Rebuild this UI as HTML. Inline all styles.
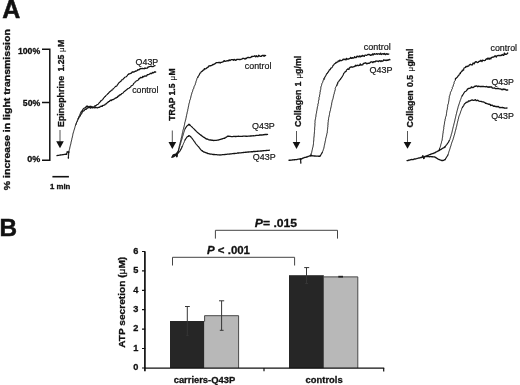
<!DOCTYPE html>
<html><head><meta charset="utf-8">
<style>
html,body{margin:0;padding:0;background:#fff;}
svg{display:block;font-family:"Liberation Sans",sans-serif;}
.b{font-weight:bold;stroke:#111;stroke-width:0.3;paint-order:stroke;}
.big{stroke-width:0.5;stroke-linejoin:miter;}
.tr{fill:none;stroke:#141414;stroke-linejoin:round;stroke-linecap:round;}
.ax{fill:none;stroke:#111;stroke-width:1.5;}
.lb{stroke:#151515;stroke-width:0.2;}
.br{fill:none;stroke:#444;stroke-width:1;}
.eb{fill:none;stroke:#363636;stroke-width:1;}
</style></head>
<body>
<svg width="520" height="385" viewBox="0 0 520 385">
<rect width="520" height="385" fill="#fff"/>
<!-- Panel letters -->
<text class="b big" x="2.2" y="18.1" font-size="25" fill="#111">A</text>
<text class="b big" x="-0.4" y="235.9" font-size="24.3" fill="#111">B</text>

<!-- Panel A y axis -->
<text class="b" transform="translate(10.3,190.2) rotate(-90) scale(1,0.94)" font-size="10.5" style="stroke-width:0.35" fill="#111" textLength="161" lengthAdjust="spacing">% increase in light transmission</text>
<path class="ax" d="M42,49.3H49.8V160.35H42M42,102.6H49.8"/>
<text class="b" x="40.2" y="54.4" font-size="8.7" text-anchor="end" fill="#111">100%</text>
<text class="b" x="40.2" y="106.3" font-size="8.7" text-anchor="end" fill="#111">50%</text>
<text class="b" x="40.2" y="162.4" font-size="9" text-anchor="end" fill="#111">0%</text>
<path d="M52.4,176.7H68.9" stroke="#111" stroke-width="1.6" fill="none"/>
<text class="b" x="50" y="188.8" font-size="7.8" fill="#111">1 min</text>

<!-- Chart 1 -->
<text class="b" transform="translate(63.7,127) rotate(-90)" font-size="8.9" fill="#111"><tspan x="0">Epinephrine</tspan><tspan x="55.6" font-size="8.6">1.25</tspan><tspan x="75" font-weight="normal" font-size="8" style="stroke-width:0.15">μ</tspan><tspan x="80.1">M</tspan></text>
<path d="M60,130V142" stroke="#555" stroke-width="1" fill="none"/>
<path d="M56.2,141.2H63.8L60,148.2Z" fill="#111"/>
<path class="tr" stroke-width="1.35" d="M57.0,155.6L57.8,155.4L58.7,155.3L59.5,155.2L60.3,155.0L61.2,154.9L62.0,154.8L62.7,154.6L63.5,154.6L64.2,154.4L65.0,154.4L65.7,154.2L66.5,154.2"/>
<path class="tr" stroke-width="1.15" d="M66.5,154.2L66.7,153.5L67.0,152.7L67.2,152.0"/>
<path class="tr" stroke-width="1.35" d="M67.2,152.0L68.0,151.9L68.8,152.0"/>
<path class="tr" stroke-width="1.15" d="M68.8,152.0L68.7,152.8"/>
<path class="tr" stroke-width="0.95" d="M68.7,152.8L68.7,153.5L68.7,154.3L68.6,155.0L68.6,155.8L68.5,156.5L68.5,157.3L68.4,158.0"/>
<path class="tr" stroke-width="1.35" d="M68.4,158.0L68.4,157.2"/>
<path class="tr" stroke-width="0.95" d="M68.4,157.2L68.4,156.4L68.4,155.6L68.3,154.8L68.3,154.0L68.5,153.3L68.7,152.5L68.9,151.8L69.0,151.0L69.2,150.2L69.4,149.5L69.6,148.8L69.8,148.0L69.9,147.2L70.1,146.5L70.3,145.7L70.5,145.0L70.7,144.2L70.9,143.4L71.0,142.6L71.2,141.8L71.4,141.0L71.6,140.2L71.8,139.4L71.9,138.6L72.2,137.8L72.3,137.0L72.5,136.2L72.7,135.4L72.8,134.6L73.0,133.8L73.1,133.0L73.5,132.2L73.7,131.4L73.9,130.6L74.2,129.8L74.4,129.0L74.7,128.2L74.9,127.4L75.1,126.6L75.4,125.8L75.7,125.0L76.0,124.3L76.1,123.6L76.4,122.9L76.6,122.1L77.0,121.5L77.2,120.7L77.6,120.1L77.8,119.3L77.9,118.6L78.3,117.9L78.7,117.2L78.9,116.4L79.3,115.8L79.6,115.0L79.9,114.3L80.2,113.6L80.7,113.0"/>
<path class="tr" stroke-width="1.15" d="M80.7,113.0L80.9,112.1L81.4,111.5L82.0,110.8L82.6,110.3L82.8,109.4L83.5,108.8L84.0,108.2L84.8,108.0L85.3,107.6"/>
<path class="tr" stroke-width="1.35" d="M85.3,107.6L86.0,107.2L86.3,106.4L87.0,106.1L87.7,106.2L88.4,106.8L89.2,107.0L90.1,106.3L90.9,106.4L91.6,106.6L92.4,106.8L93.2,107.1L94.0,107.4L94.6,106.6L95.1,105.9"/>
<path class="tr" stroke-width="1.15" d="M95.1,105.9L96.0,105.6L96.6,105.0L97.4,104.6L98.2,104.2L98.7,103.5L99.2,102.8L99.8,102.3L100.4,101.7L100.7,100.8L101.6,100.6L102.2,99.9L102.8,99.4L103.3,98.7L103.7,97.9L104.3,97.4L104.7,96.7L105.5,96.4L105.8,95.6L106.4,95.1L107.0,94.6L107.6,94.0L108.2,93.6L108.7,92.9L109.2,92.3L109.8,91.8L110.4,91.3L111.1,90.8L111.5,90.1L112.4,90.0L112.9,89.3L113.2,88.6L113.9,88.1L114.5,87.6L115.0,87.0L115.5,86.4L116.4,86.2L117.1,85.6L117.4,84.8L118.0,84.2L118.4,83.4L118.9,82.8L119.6,82.3L120.2,81.7L121.0,81.3L121.3,80.4L121.8,79.8L122.8,79.7L123.2,79.0L123.6,78.3L124.4,78.0L124.7,77.2L125.5,77.0L126.3,76.8L126.8,76.2L127.3,75.6L127.7,74.9L128.4,74.4"/>
<path class="tr" stroke-width="1.35" d="M128.4,74.4L128.8,73.8L129.9,73.8L130.5,73.3L131.4,73.1L131.9,72.4L132.6,71.9L133.6,72.0L134.4,71.8L135.1,71.3L135.9,71.0L136.6,70.8L137.3,70.5L137.9,69.7L138.8,69.8L139.5,69.4L140.1,68.8L140.9,68.5L141.7,68.6L142.5,68.4L143.4,68.6L144.2,68.7L144.9,68.0L145.8,68.3L146.6,68.2L147.3,68.0L148.0,67.2L148.7,66.8L149.5,66.6L150.3,66.4L151.0,66.2L151.9,66.5L152.8,66.6L153.5,66.3L154.2,65.8L155.0,65.6"/>
<path class="tr" stroke-width="0.95" d="M75.6,125.0L76.0,124.3L76.3,123.5L76.5,122.7L77.0,122.1L77.3,121.3L77.6,120.6L78.0,119.8L78.2,119.1L78.5,118.3"/>
<path class="tr" stroke-width="1.15" d="M78.5,118.3L79.0,117.6L79.3,116.9L79.8,116.4L80.3,115.8L80.5,115.0L80.9,114.4L81.5,113.8L81.9,113.1L82.1,112.4L82.5,111.7L83.0,111.1L83.9,110.9L84.5,110.4L84.8,109.5L85.6,109.4"/>
<path class="tr" stroke-width="1.35" d="M85.6,109.4L86.3,109.2L86.8,108.6L87.3,108.0L88.0,107.8L88.7,107.4L89.5,107.2L90.3,108.1L91.0,107.7L91.8,107.6L92.5,107.9L93.2,107.3L94.0,107.7L94.8,107.8L95.8,107.4L96.6,107.6L97.5,107.8L98.3,107.4L99.2,107.4L99.9,106.8L100.6,106.6L101.2,106.1L102.2,106.3L102.6,105.6L103.3,105.3L104.0,105.1L104.8,104.8L105.3,104.1L106.2,103.9L106.7,103.2L107.3,102.8L108.0,102.3L108.4,101.6L109.3,101.4L109.9,100.8L110.5,100.2L111.6,100.5L112.1,99.6L113.0,99.5L113.8,99.3L114.5,98.8L115.2,98.2L116.0,98.0L116.7,97.5L117.5,97.2L117.8,96.3L118.7,96.0L119.2,95.3L119.9,94.9L120.8,94.7"/>
<path class="tr" stroke-width="1.15" d="M120.8,94.7L121.3,94.0L121.9,93.5L122.6,93.2L123.3,92.7L123.7,92.0L124.4,91.6L125.0,91.0L125.6,90.5L126.3,90.1L126.9,89.5L127.5,89.0L128.1,88.5L129.0,88.3L129.5,87.6L130.2,87.2L130.8,86.8L131.1,85.9L131.9,85.5L132.7,85.2L133.2,84.6L133.5,83.7L134.1,83.1L134.8,82.6L135.2,81.9L135.9,81.4L136.4,80.8L137.2,80.6L137.8,80.2L138.5,79.7L138.7,78.8L139.5,78.6"/>
<path class="tr" stroke-width="1.35" d="M139.5,78.6L140.1,78.1L140.5,77.4L141.5,77.7L142.3,77.5L142.7,76.5L143.7,76.9L144.3,76.1L145.1,75.9L146.1,76.1L146.8,75.6L147.4,74.7L148.2,74.6L148.9,74.4L149.5,74.0L150.2,73.5L150.9,73.3L151.8,73.5L152.4,72.5L153.3,72.8L154.0,72.4L154.7,71.8L155.6,72.0"/>
<text class="lb" x="135.6" y="65.4" font-size="9" fill="#151515" textLength="22.6" lengthAdjust="spacingAndGlyphs">Q43P</text>
<text class="lb" x="132.2" y="93" font-size="9" fill="#151515" textLength="26.2" lengthAdjust="spacingAndGlyphs">control</text>

<!-- Chart 2 -->
<text class="b" transform="translate(175.4,120.8) rotate(-90)" font-size="8.6" fill="#111"><tspan x="0">TRAP</tspan><tspan x="25.4">1.5</tspan><tspan x="40.2" font-weight="normal" font-size="8" style="stroke-width:0.15">μ</tspan><tspan x="45.2">M</tspan></text>
<path d="M172.3,130.5V142.5" stroke="#555" stroke-width="1" fill="none"/>
<path d="M168.5,142H176.2L172.3,149Z" fill="#111"/>
<path class="tr" stroke-width="1.35" d="M172.0,157.0L172.7,156.5L173.3,156.1L174.0,155.6L174.6,155.1L175.4,154.9L176.0,154.4L176.2,155.2"/>
<path class="tr" stroke-width="1.15" d="M176.2,155.2L176.6,155.9L176.8,156.7"/>
<path class="tr" stroke-width="1.35" d="M176.8,156.7L177.0,155.9"/>
<path class="tr" stroke-width="1.15" d="M177.0,155.9L177.2,155.1"/>
<path class="tr" stroke-width="0.95" d="M177.2,155.1L177.4,154.4L177.5,153.6L177.7,152.8L178.0,152.0L178.1,151.2L178.3,150.4L178.5,149.7L178.7,148.9L178.9,148.1L179.1,147.3L179.2,146.5L179.4,145.7L179.6,145.0L179.8,144.2L180.0,143.4L180.2,142.6L180.4,141.8L180.6,141.1L180.7,140.3L181.0,139.5L181.1,138.7L181.4,137.9L181.5,137.1L181.7,136.4L181.9,135.6L182.1,134.8L182.2,134.0L182.4,133.2L182.6,132.5L182.8,131.7L182.9,130.9L183.1,130.1L183.3,129.3L183.5,128.6L183.7,127.8L183.9,127.0L184.2,126.2L184.3,125.4L184.5,124.7L184.6,123.9L184.8,123.1L184.9,122.3L185.2,121.5L185.3,120.8L185.6,120.0L185.8,119.2L185.9,118.5L186.1,117.7L186.3,117.0L186.3,116.1L186.6,115.4L186.7,114.6L186.9,113.9L187.1,113.1L187.2,112.3L187.4,111.6L187.6,110.8L187.8,110.1L187.8,109.3L188.1,108.5L188.2,107.7L188.4,107.0L188.5,106.2L188.7,105.4L188.8,104.6L189.0,103.8L189.1,103.1L189.5,102.3L189.6,101.5L189.7,100.7L189.9,100.0L190.3,99.3L190.5,98.5L190.7,97.8L190.8,97.0L191.0,96.2L191.2,95.5L191.4,94.7L191.6,94.0L191.9,93.2L192.0,92.5L192.4,91.8L192.7,91.1L192.8,90.3L193.0,89.5L193.6,88.8L193.7,88.0L194.0,87.2L194.2,86.4L194.6,85.7L195.0,85.0L195.3,84.3L195.4,83.5L195.8,82.8L195.8,81.9L196.2,81.2L196.4,80.5L196.7,79.7L196.8,78.9L197.2,78.2L197.7,77.5"/>
<path class="tr" stroke-width="1.15" d="M197.7,77.5L198.0,76.7L198.5,76.0L198.9,75.3L199.4,74.6L199.7,73.8L200.1,73.1L200.8,72.7L201.1,71.9L201.6,71.4L202.6,71.3L202.7,70.3L203.6,70.2L204.1,69.6"/>
<path class="tr" stroke-width="1.35" d="M204.1,69.6L204.4,68.7L205.5,68.9L206.2,68.5L206.8,67.9L207.5,67.5L208.2,67.1L208.5,66.1L209.4,66.0L210.1,65.7L211.0,65.7L211.6,65.4L212.3,65.1L212.9,64.5L213.8,64.5L214.4,64.0L215.1,63.7L215.8,63.0L216.6,62.6L217.4,62.6L218.3,62.7L219.1,62.3L220.1,63.0L220.7,62.4L221.5,62.3L222.2,62.1L222.9,61.9L223.6,61.4L224.1,60.6L225.1,61.4L225.9,61.2L226.7,60.8L227.5,60.7L228.4,60.8L229.1,59.9L230.0,60.6L230.8,59.9L231.6,59.6L232.5,59.7L233.4,60.2L234.1,59.4L235.0,60.0L235.9,60.3L236.7,59.5L237.5,59.3L238.3,59.4L239.2,59.5L240.0,59.5L240.8,59.3L241.7,59.2L242.5,58.4L243.3,58.4L244.1,58.5L245.1,59.1L245.7,58.3L246.5,58.5L247.1,57.6L247.9,57.5L248.7,57.5L249.6,57.7L250.3,57.5L251.1,57.2L251.7,56.5L252.5,56.5L253.3,56.4L254.1,56.3L254.8,55.8L255.7,56.7L256.4,55.8L257.3,56.7L258.0,56.6L258.7,55.3L259.5,55.9L260.3,56.3L261.1,56.4L261.8,55.7L262.5,55.5L263.3,55.3L264.1,56.3L264.8,55.3L265.6,55.6"/>
<path class="tr" stroke-width="0.95" d="M172.0,157.5L172.3,156.7L172.7,155.8"/>
<path class="tr" stroke-width="1.15" d="M172.7,155.8L173.0,155.0L173.8,154.8"/>
<path class="tr" stroke-width="1.35" d="M173.8,154.8L174.5,154.5L175.3,154.3L176.0,154.0L176.5,153.4"/>
<path class="tr" stroke-width="1.15" d="M176.5,153.4L177.0,152.8L177.5,152.2L178.0,151.6L178.5,151.0L178.7,150.2"/>
<path class="tr" stroke-width="0.95" d="M178.7,150.2L178.9,149.5L179.1,148.7L179.3,148.0L179.5,147.2L179.7,146.5L179.9,145.7L180.2,145.0L180.4,144.3L180.6,143.5L180.8,142.8L181.0,142.0L181.2,141.2L181.5,140.5L181.7,139.7L182.0,138.9L182.2,138.1L182.4,137.3L182.6,136.5L182.9,135.8L183.1,135.0L183.3,134.2L183.6,133.4L183.8,132.6L184.0,131.9L184.3,131.1L184.6,130.3L184.7,129.5L185.1,128.8"/>
<path class="tr" stroke-width="1.15" d="M185.1,128.8L185.5,128.0L186.0,127.3L186.5,126.7L186.9,125.9L187.5,125.5L188.1,125.1L188.6,124.7"/>
<path class="tr" stroke-width="1.35" d="M188.6,124.7L189.0,124.2L189.6,124.6L190.1,125.3"/>
<path class="tr" stroke-width="1.15" d="M190.1,125.3L190.7,125.9L191.4,126.4L192.0,127.0L192.6,127.5L193.1,128.1L193.7,128.6L194.2,129.2L194.7,129.8L195.3,130.3L195.9,130.8L196.3,131.5L197.0,131.9L197.5,132.5L198.2,133.0L198.8,133.5L199.4,134.0L200.0,134.6L200.8,135.0L201.3,135.5"/>
<path class="tr" stroke-width="1.35" d="M201.3,135.5L202.0,136.0L202.7,136.5L203.3,136.9L204.0,137.3L204.7,137.8L205.4,138.2L206.0,138.8L206.8,139.0L207.6,139.2L208.4,139.6L209.2,139.9L210.0,140.0L210.8,140.0L211.5,140.2L212.3,140.2L213.0,140.4L213.8,140.5L214.6,140.4L215.4,140.3L216.3,140.3L217.2,140.2L218.0,140.1L218.8,139.8L219.6,139.6L220.4,139.4L221.2,139.2L222.0,139.0L222.7,138.6L223.5,138.4L224.3,138.4L225.0,137.9L225.6,137.6L226.3,137.2L226.9,136.8L227.5,136.2L228.2,136.2L229.0,136.2L229.8,136.3L230.5,136.4L231.2,136.6L232.0,136.6L232.8,136.6L233.6,136.3L234.4,136.3L235.2,136.5L236.0,136.5L236.8,136.4L237.6,136.4L238.4,136.2L239.2,136.3L240.0,136.4L240.8,136.4L241.6,136.4L242.4,136.4L243.1,136.1L243.9,136.1L244.7,136.1L245.5,136.2L246.3,136.2L247.1,136.3L247.9,136.2L248.6,136.1L249.4,136.1L250.2,136.0L251.0,136.0L251.8,135.8L252.6,135.9L253.3,135.7L254.1,135.8L254.9,135.7L255.7,135.5L256.4,135.3L257.2,135.3L258.0,135.3L258.8,135.3L259.6,135.0L260.4,134.9L261.2,135.0L262.0,135.0L262.7,134.8L263.5,134.7L264.3,134.7L265.1,134.4L265.9,134.5L266.7,134.5L267.5,134.4"/>
<path class="tr" stroke-width="1.35" d="M173.0,157.0L173.7,156.6L174.3,156.2L175.0,155.8L175.7,155.3L176.3,154.9L177.0,154.5"/>
<path class="tr" stroke-width="1.15" d="M177.0,154.5L177.5,153.9L178.0,153.3L178.5,152.7L179.0,152.1L179.5,151.6L180.0,151.0L180.4,150.3L180.7,149.6L181.1,148.9L181.5,148.2L181.8,147.4L182.1,146.7"/>
<path class="tr" stroke-width="0.95" d="M182.1,146.7L182.5,146.0L182.8,145.2L183.1,144.5L183.4,143.7L183.8,143.0L184.1,142.3L184.4,141.5L184.7,140.7L185.0,140.0"/>
<path class="tr" stroke-width="1.15" d="M185.0,140.0L185.4,139.4L185.8,138.8L186.2,138.2L186.6,137.6L187.0,137.0L187.6,136.5L188.4,136.2"/>
<path class="tr" stroke-width="1.35" d="M188.4,136.2L189.0,135.6L189.7,136.0L190.4,136.5"/>
<path class="tr" stroke-width="1.15" d="M190.4,136.5L191.0,137.0L191.4,137.6L191.9,138.2L192.4,138.8L192.8,139.4L193.3,140.0L193.7,140.6L194.2,141.3L194.7,141.9L195.1,142.6L195.6,143.3L196.0,144.0L196.5,144.6L197.1,145.2L197.6,145.8L198.2,146.4L198.8,147.0L199.2,147.6L199.6,148.2L200.1,148.8L200.6,149.4L201.0,150.0L201.7,150.5L202.4,151.0"/>
<path class="tr" stroke-width="1.35" d="M202.4,151.0L203.1,151.5L203.8,152.0L204.5,152.2L205.2,152.5L205.9,152.7L206.6,153.0L207.3,153.2L208.0,153.6L208.8,153.6L209.5,153.8L210.2,154.0L211.0,154.1L211.8,154.2L212.5,154.3L213.3,154.5L214.2,154.5L215.0,154.6L215.8,154.6L216.7,154.7L217.5,154.8L218.3,154.8L219.2,154.9L220.0,155.0L220.8,154.9L221.7,154.8L222.5,154.7L223.3,154.6L224.2,154.6L225.0,154.5L225.8,154.4L226.6,154.4L227.4,154.2L228.2,154.1L229.1,154.1L229.9,154.0L230.7,153.9L231.5,153.8L232.3,153.7L233.1,153.6L233.9,153.5L234.7,153.5L235.5,153.4L236.3,153.3L237.1,153.2L237.9,153.0L238.7,153.0L239.5,152.9L240.3,152.9L241.1,152.8L241.8,152.7L242.6,152.6L243.4,152.5L244.1,152.4L244.9,152.4L245.7,152.2L246.5,152.2L247.2,152.1L248.0,152.0L248.8,152.0L249.6,151.9L250.4,151.8L251.2,151.7L252.0,151.7L252.8,151.7L253.5,151.5L254.3,151.5L255.1,151.5L255.9,151.3L256.7,151.3L257.5,151.2L258.3,151.2L259.1,151.1L259.9,151.1L260.7,151.0L261.5,151.0L262.3,150.8L263.0,150.7L263.8,150.7L264.6,150.6L265.4,150.6L266.2,150.5L267.0,150.4L267.8,150.4L268.6,150.3L269.4,150.2"/>
<text class="lb" x="244.8" y="68.8" font-size="9" fill="#151515" textLength="26.6" lengthAdjust="spacingAndGlyphs">control</text>
<text class="lb" x="252" y="129.1" font-size="9" fill="#151515" textLength="22.8" lengthAdjust="spacingAndGlyphs">Q43P</text>
<text class="lb" x="252.8" y="160.3" font-size="9" fill="#151515" textLength="22.8" lengthAdjust="spacingAndGlyphs">Q43P</text>

<!-- Chart 3 -->
<text class="b" transform="translate(301.2,127) rotate(-90)" font-size="8.9" fill="#111"><tspan x="0">Collagen</tspan><tspan x="40.5">1</tspan><tspan x="48.6" font-weight="normal" font-size="8" style="stroke-width:0.15">μ</tspan><tspan x="53.1">g/ml</tspan></text>
<path d="M296.5,131V142.5" stroke="#555" stroke-width="1" fill="none"/>
<path d="M292.7,142H300.3L296.5,149Z" fill="#111"/>
<path class="tr" stroke-width="1.35" d="M289.0,160.2L289.8,160.2L290.5,160.2L291.3,160.1L292.0,160.0L292.7,159.8L293.5,159.9L294.2,159.7L295.0,159.7L295.8,159.6L296.6,159.6L297.4,159.3L298.2,159.2L299.0,159.1L299.8,159.0L300.6,159.0"/>
<path class="tr" stroke-width="1.15" d="M300.6,159.0L300.6,159.8"/>
<path class="tr" stroke-width="0.95" d="M300.6,159.8L300.7,160.5L300.7,161.2L300.7,162.0L300.8,162.8L300.8,163.5L300.8,162.7L300.7,162.0L300.7,161.2L300.6,160.5L300.6,159.7L300.6,159.0"/>
<path class="tr" stroke-width="1.15" d="M300.6,159.0L301.4,158.8"/>
<path class="tr" stroke-width="1.35" d="M301.4,158.8L302.1,158.6L302.8,158.2L303.5,158.0L304.2,157.7L305.0,157.4L305.8,157.3L306.6,157.0L307.4,156.8L308.2,156.4L309.0,156.2L309.8,155.9L310.6,155.6"/>
<path class="tr" stroke-width="1.15" d="M310.6,155.6L310.9,154.9L311.1,154.2"/>
<path class="tr" stroke-width="0.95" d="M311.1,154.2L311.3,153.4L311.6,152.7L311.8,152.0L311.9,151.2L312.1,150.4L312.3,149.7L312.4,148.9L312.6,148.1L312.8,147.3L313.0,146.6L313.1,145.8L313.3,145.0L313.4,144.2L313.5,143.4L313.5,142.6L313.6,141.8L313.6,141.0L313.8,140.2L313.8,139.4L313.8,138.6L313.9,137.8L314.0,137.0L314.1,136.2L314.2,135.4L314.2,134.6L314.3,133.8L314.4,133.0L314.4,132.2L314.5,131.4L314.5,130.6L314.7,129.8L314.6,128.9L314.7,128.1L314.7,127.3L314.8,126.5L314.9,125.7L315.0,124.9L314.9,124.1L314.9,123.2L315.1,122.4L315.0,121.6L315.0,120.8L315.3,120.0L315.3,119.2L315.6,118.4L315.6,117.6L315.9,116.8L315.9,116.0L316.0,115.2L316.1,114.4L316.3,113.6L316.5,112.8L316.7,112.0L316.6,111.2L316.9,110.4L317.0,109.6L317.2,108.8L317.2,108.0L317.4,107.2L317.6,106.4L317.9,105.6L317.8,104.8L318.0,104.0L318.3,103.2L318.5,102.4L318.4,101.6L318.5,100.8L318.9,100.0L319.0,99.2L319.0,98.4L319.0,97.5L319.5,96.8L319.4,95.9L319.7,95.1L319.8,94.3L320.0,93.5L319.9,92.7L320.3,91.9L320.2,91.0L320.4,90.2L320.7,89.5L320.8,88.6L320.8,87.8L320.9,87.0L321.2,86.2L321.5,85.5L321.7,84.7L321.8,83.9L322.1,83.2L322.6,82.5L322.9,81.8L322.8,80.9L323.4,80.3L323.9,79.6"/>
<path class="tr" stroke-width="1.15" d="M323.9,79.6L323.9,78.6L324.7,78.1L324.7,77.2L325.3,76.5L325.7,75.8L326.1,75.0L326.3,74.3L326.8,73.7L327.4,73.2L327.7,72.5L328.3,72.0L328.6,71.3L329.1,70.7L329.3,69.9L330.1,69.6L330.5,68.9L330.9,68.1L331.8,67.7L332.3,67.1L332.7,66.3L333.0,65.5L333.7,65.0L334.1,64.2L334.8,63.6L335.7,63.3L336.1,62.5"/>
<path class="tr" stroke-width="1.35" d="M336.1,62.5L337.0,62.2L337.8,61.9L338.2,61.0L339.3,61.2L339.8,60.1L340.9,60.7L341.8,60.6L342.5,60.0L343.2,59.2L344.2,59.6L345.0,59.2L346.0,59.8L346.5,58.4L347.6,59.2L348.5,59.1L349.2,58.6L350.1,58.4L350.7,57.4L351.7,58.4L352.3,57.6L353.2,58.1L354.0,57.9L354.6,56.7L355.5,57.5L356.3,57.6L356.9,56.2L357.8,56.5L358.7,56.9L359.3,55.9L360.3,56.9L361.0,55.9L361.9,56.5L362.5,55.4L363.4,55.8L364.3,56.3L364.9,55.2L365.7,55.1L366.5,55.4L367.2,55.0L367.9,54.4L368.7,54.5L369.4,54.4L370.3,55.4L371.0,54.9L371.9,55.1L372.6,53.9L373.5,54.7L374.2,53.6L375.1,54.1L375.9,54.2L376.7,53.6L377.5,54.3L378.3,53.8L379.1,53.9L379.9,54.3L380.6,53.2L381.4,54.5L382.2,54.0L383.0,53.6L383.8,54.3L384.7,53.5L385.4,54.6L386.3,54.0L387.1,53.7L387.9,54.4L388.8,54.0"/>
<path class="tr" stroke-width="1.35" d="M310.6,155.7L311.3,155.7L312.1,155.7L312.8,155.9L313.5,155.8L314.3,156.0L315.0,155.9L315.8,156.1L316.7,156.2L317.5,156.1L318.3,156.2L319.2,156.2L320.0,156.2L320.4,155.6"/>
<path class="tr" stroke-width="1.15" d="M320.4,155.6L320.8,154.9L321.2,154.3L321.6,153.6L322.0,153.0L322.3,152.3"/>
<path class="tr" stroke-width="0.95" d="M322.3,152.3L322.6,151.6L322.9,150.9L323.2,150.2L323.4,149.4L323.7,148.7L323.9,148.0L324.0,147.2L324.2,146.4L324.3,145.6L324.5,144.9L324.7,144.1L324.8,143.3L325.0,142.6L325.1,141.8L325.3,141.0L325.5,140.3L325.6,139.5L325.7,138.7L325.9,138.0L326.1,137.3L326.3,136.5L326.5,135.8L326.6,135.0L326.8,134.3L326.9,133.6L327.2,133.0L327.3,132.2L327.3,131.4L327.4,130.6L327.5,129.7L327.6,128.9L327.7,128.1L327.7,127.3L327.9,126.5L327.8,125.7L328.0,124.9L328.0,124.1L328.0,123.2L328.1,122.4L328.3,121.6L328.2,120.8L328.4,120.0L328.6,119.2L328.6,118.4L328.7,117.6L329.0,116.8L329.1,116.0L329.3,115.2L329.5,114.4L329.5,113.6L329.7,112.8L329.9,112.0L330.0,111.2L330.4,110.4L330.5,109.6L330.7,108.8L330.6,108.0L331.1,107.2L331.2,106.4L331.3,105.6L331.6,104.8L331.6,104.0L331.7,103.2L331.9,102.4L332.1,101.6L332.2,100.8L332.4,100.0L332.8,99.3L333.0,98.5L333.2,97.7L333.4,97.0L333.4,96.2L333.7,95.4L333.8,94.6L334.2,93.9L334.3,93.1L334.4,92.3L334.7,91.6L335.0,90.9L334.9,90.0L335.4,89.3L335.2,88.5L335.5,87.7L335.7,87.0L336.2,86.4L336.7,85.7"/>
<path class="tr" stroke-width="1.15" d="M336.7,85.7L336.9,85.0L337.1,84.2L337.7,83.7L337.7,82.8L338.0,82.1L338.7,81.6L339.0,80.9L339.5,80.4L339.9,79.7L340.6,79.3L340.7,78.4L341.4,78.0L341.7,77.3L342.3,76.7L342.5,76.0L343.0,75.3L343.4,74.5L343.6,73.7L344.1,73.0L344.9,72.5L345.1,71.6L346.2,71.4L346.3,70.3L346.9,69.6L347.6,69.1"/>
<path class="tr" stroke-width="1.35" d="M347.6,69.1L348.9,69.4L349.2,68.3L349.8,67.6L350.5,67.1L351.4,66.8L352.5,67.2L353.3,66.8L354.1,66.6L354.9,66.4L355.4,65.3L356.4,65.8L357.1,65.2L358.1,65.7L358.9,65.4L359.7,65.4L360.2,64.0L361.2,65.0L362.0,64.9L362.8,64.8L363.3,63.4L364.1,63.4L364.9,63.0L365.7,62.8L366.7,63.8L367.4,63.6L368.2,63.2L369.0,63.4L369.7,63.0L370.4,62.3L371.1,61.9L371.9,61.8L372.9,62.6L373.6,61.7L374.4,61.7L375.2,61.7L375.9,61.0L376.8,61.2L377.6,61.1L378.5,61.6L379.2,60.9L380.0,60.7L380.9,61.6L381.5,60.8L382.4,61.2L383.1,60.8L383.8,59.8L384.6,60.3L385.4,60.2L386.2,60.6L386.9,59.9L387.7,60.3L388.5,60.0L389.2,59.4L390.0,59.8"/>
<text class="lb" x="363.8" y="50.2" font-size="9" fill="#151515" textLength="27" lengthAdjust="spacingAndGlyphs">control</text>
<text class="lb" x="369.4" y="73" font-size="9" fill="#151515" textLength="23" lengthAdjust="spacingAndGlyphs">Q43P</text>

<!-- Chart 4 -->
<text class="b" transform="translate(413.2,127.4) rotate(-90)" font-size="8.8" fill="#111"><tspan x="0">Collagen</tspan><tspan x="40.4" font-size="8.6">0.5</tspan><tspan x="55.9" font-weight="normal" font-size="8" style="stroke-width:0.15">μ</tspan><tspan x="60.8">g/ml</tspan></text>
<path d="M407.5,131V142.5" stroke="#555" stroke-width="1" fill="none"/>
<path d="M403.7,142H411.3L407.5,148.8Z" fill="#111"/>
<path class="tr" stroke-width="1.35" d="M407.0,160.6L407.8,160.6L408.6,160.1L409.4,160.2L410.2,159.9L411.0,159.6L411.8,159.5L412.6,159.6L413.4,159.5L414.2,159.0L415.0,159.0L415.8,158.8L416.6,158.7L417.4,158.3L418.2,158.2L419.0,158.0L419.9,157.9L420.7,157.5L421.5,157.5L422.3,157.2"/>
<path class="tr" stroke-width="1.15" d="M422.3,157.2L422.5,156.3"/>
<path class="tr" stroke-width="1.35" d="M422.5,156.3L422.8,155.7L423.1,156.3"/>
<path class="tr" stroke-width="1.15" d="M423.1,156.3L423.3,157.1"/>
<path class="tr" stroke-width="0.95" d="M423.3,157.1L423.5,157.9"/>
<path class="tr" stroke-width="1.15" d="M423.5,157.9L423.8,158.5"/>
<path class="tr" stroke-width="1.35" d="M423.8,158.5L424.1,157.7"/>
<path class="tr" stroke-width="1.15" d="M424.1,157.7L424.3,156.7L425.1,156.5"/>
<path class="tr" stroke-width="1.35" d="M425.1,156.5L425.8,156.2L426.5,155.8L427.2,155.6L428.0,155.3L428.8,155.1L429.4,154.6L430.2,154.6L430.9,154.1L431.6,153.8L432.4,153.6L433.2,153.5L433.9,153.1L434.6,152.8L435.4,152.5L436.1,151.9L436.9,151.6L437.7,151.2L438.5,150.9L439.2,150.4"/>
<path class="tr" stroke-width="1.15" d="M439.2,150.4L439.4,149.7L439.6,148.9"/>
<path class="tr" stroke-width="0.95" d="M439.6,148.9L439.8,148.2L440.0,147.5L440.3,146.8L440.5,146.1L440.7,145.3L440.8,144.6L441.1,143.8L441.3,143.1L441.5,142.3L441.6,141.5L441.9,140.8L442.2,140.0L442.2,139.2L442.3,138.4L442.4,137.7L442.6,136.9L442.7,136.1L442.7,135.3L442.8,134.5L442.9,133.7L443.1,133.0L443.2,132.2L443.2,131.4L443.4,130.7L443.4,129.9L443.7,129.2L443.8,128.4L443.7,127.6L444.0,126.9L443.9,126.1L444.1,125.3L444.3,124.6L444.4,123.8L444.5,123.0L444.6,122.2L444.7,121.4L445.0,120.6L445.0,119.8L445.2,119.0L445.5,118.2L445.5,117.4L445.8,116.6L446.2,115.8L446.3,115.0L446.4,114.2L446.5,113.5L446.6,112.7L446.6,111.9L446.9,111.2L446.9,110.4L447.2,109.6L447.4,108.9L447.3,108.1L447.5,107.3L447.7,106.6L447.7,105.8L447.7,105.0L448.1,104.2L448.4,103.5L448.5,102.7L448.6,101.9L448.8,101.1L448.9,100.3L449.0,99.5L449.1,98.7L449.1,97.9L449.5,97.2L449.3,96.3L449.7,95.6L450.0,94.8L450.1,94.0L450.4,93.3L450.4,92.5L450.8,91.8L451.2,91.1L451.6,90.4L451.7,89.6L452.1,88.9L452.5,88.3L452.3,87.3L452.9,86.7L453.2,86.0L453.3,85.1L453.6,84.4L454.1,83.8L453.8,82.8L454.4,82.2L454.4,81.4L455.1,80.8L455.4,80.1L455.4,79.2"/>
<path class="tr" stroke-width="1.15" d="M455.4,79.2L455.5,78.4L456.4,78.1L456.9,77.4L457.5,77.0L457.8,76.2L458.4,75.7L459.0,75.2L459.2,74.4L459.6,73.8L460.5,73.6L460.3,72.5L461.2,72.2L461.4,71.4L462.3,71.2L462.3,70.0L463.7,70.2L463.7,69.0L464.0,68.1L464.8,67.7L465.6,67.4"/>
<path class="tr" stroke-width="1.35" d="M465.6,67.4L465.9,66.4L467.0,66.6L467.7,66.1L468.7,66.1L469.1,65.2L469.7,64.7L470.3,64.3L471.5,64.9L472.3,64.9L472.7,63.9L473.1,63.0L474.2,63.8L474.7,62.7L475.3,62.1L476.0,61.6L477.2,62.6L478.0,62.4L478.6,61.8L479.3,61.2L480.2,61.2L480.8,60.3L482.0,61.6L482.5,60.1L483.5,60.4L484.4,60.6L485.2,60.4L485.8,59.4L486.5,58.8L487.5,59.1L488.0,58.0L489.2,59.3L489.8,58.1L490.9,58.9L491.4,57.4L492.2,57.4L492.9,57.0L493.8,57.1L494.4,56.4L495.1,55.8L496.3,57.1L496.8,55.9L497.5,55.6L498.3,55.5L499.2,55.7L500.0,55.4L500.9,55.5L501.6,55.3L502.2,54.5L503.4,55.4L504.1,55.0L504.3,53.1L505.6,54.4L506.4,54.3L507.1,53.8L507.7,53.0"/>
<path class="tr" stroke-width="1.35" d="M439.2,150.4L439.9,149.9L440.6,149.7L441.3,149.2L441.9,148.7L442.7,148.2L443.6,147.9L444.3,147.4L445.0,146.9"/>
<path class="tr" stroke-width="1.15" d="M445.0,146.9L445.4,146.2L445.9,145.6L446.4,144.9L447.0,144.3L447.4,143.6L447.9,142.9L448.5,142.3L448.8,141.6L449.2,140.7"/>
<path class="tr" stroke-width="0.95" d="M449.2,140.7L449.7,140.0L449.9,139.3L450.1,138.5L450.3,137.8L450.6,137.0L450.8,136.3L451.1,135.5L451.2,134.7L451.5,134.0L451.7,133.3L451.9,132.5L452.1,131.7L452.3,131.0L452.4,130.3L452.6,129.5L452.8,128.7L452.9,128.0L453.2,127.2L453.3,126.5L453.6,125.7L453.7,125.0L453.9,124.2L454.1,123.4L454.3,122.7L454.6,121.9L454.6,121.1L454.9,120.3L455.0,119.6L455.2,118.8L455.4,118.0L455.6,117.3L455.7,116.5L455.9,115.7L456.2,115.0L456.2,114.2L456.5,113.5L456.7,112.8L456.7,112.0L457.0,111.3L457.2,110.5L457.4,109.8L457.5,109.0L457.9,108.2L458.0,107.4L458.2,106.6L458.6,105.8L458.6,105.0L459.1,104.2L459.3,103.4L459.5,102.6L459.9,101.8L460.0,101.0L460.3,100.3L460.6,99.6L461.0,98.9L461.0,98.1L461.4,97.4L461.7,96.7L462.0,96.0"/>
<path class="tr" stroke-width="1.15" d="M462.0,96.0L462.6,95.4L462.8,94.6L463.4,94.1L463.7,93.3L464.2,92.7L464.5,91.9L465.2,91.5L466.0,91.2L466.4,90.5L467.1,90.0L467.4,89.2"/>
<path class="tr" stroke-width="1.35" d="M467.4,89.2L468.1,88.8L468.7,88.4L469.5,88.4L470.2,88.1L470.9,87.9L471.4,86.9L472.4,87.5L473.2,87.6L473.9,87.0L474.5,86.3L475.4,86.4L476.1,85.9L476.9,86.0L477.8,86.7L478.5,86.1L479.3,86.3L480.1,86.5L480.9,86.7L481.7,86.4L482.6,86.5L483.4,86.5L484.2,86.7L485.0,86.6L485.8,86.8L486.7,86.4L487.4,87.1L488.3,86.9L489.0,87.4L489.9,86.8L490.7,87.0L491.6,86.9L492.2,87.9L493.0,88.2L493.8,88.1L494.6,87.9L495.3,88.5L496.1,88.6L496.9,88.5L497.7,88.3L498.5,88.5L499.2,88.8L500.0,88.8L500.8,89.0L501.5,89.4L502.2,89.8L503.1,88.9L503.8,89.6L504.7,89.1L505.4,89.3L506.1,90.2L506.9,90.0L507.7,90.0"/>
<path class="tr" stroke-width="1.35" d="M424.8,156.5L425.5,156.6L426.3,156.5L427.0,156.5L427.8,156.5L428.5,156.6L429.3,156.7L430.0,156.7L430.8,156.6L431.5,156.7L432.3,156.7L433.1,156.8L433.8,156.8L434.6,156.9L435.3,157.3L436.0,157.7L436.6,158.2L437.3,158.5L438.0,159.1L438.7,159.3L439.4,159.6L440.1,159.9L440.8,160.1L441.5,160.5L442.2,160.4L442.8,160.5L443.5,160.4L444.2,160.0L445.0,159.6"/>
<path class="tr" stroke-width="1.15" d="M445.0,159.6L445.4,159.0L445.8,158.3L446.3,157.6L446.6,157.0L447.1,156.3L447.5,155.7L447.9,155.0"/>
<path class="tr" stroke-width="0.95" d="M447.9,155.0L448.2,154.3L448.4,153.6L448.6,152.8L448.8,152.1L449.0,151.4L449.3,150.7L449.5,149.9L449.8,149.2L450.0,148.5L450.2,147.7L450.5,147.0L450.7,146.2L451.0,145.4L451.2,144.6L451.4,143.8L451.7,143.1L451.9,142.3L452.2,141.6L452.5,140.9L452.7,140.2L453.0,139.5L453.2,138.7L453.5,137.9L453.7,137.1L453.9,136.4L454.1,135.6L454.4,134.8L454.7,134.0L454.8,133.2L455.0,132.4L455.2,131.6L455.4,130.7L455.7,130.0L455.9,129.1L456.1,128.3L456.2,127.5L456.5,126.7L456.7,125.9L456.9,125.1L457.0,124.3L457.2,123.5L457.4,122.7L457.6,122.0L457.7,121.2L458.0,120.4L458.1,119.6L458.4,118.8L458.6,118.0L458.7,117.2L458.9,116.5L459.2,115.7L459.5,115.0L459.8,114.3L460.1,113.5L460.4,112.8L460.5,111.9L460.9,111.2L461.2,110.4L461.5,109.7L461.7,108.9L462.0,108.0L462.4,107.4"/>
<path class="tr" stroke-width="1.15" d="M462.4,107.4L462.9,106.7L463.3,106.1L463.8,105.5L464.0,104.7L464.4,104.0L465.0,103.5L465.8,103.1L466.2,102.3"/>
<path class="tr" stroke-width="1.35" d="M466.2,102.3L467.1,102.2L467.9,101.8L468.4,101.0L469.4,101.0L470.2,100.8L471.0,100.3L471.7,100.0L472.5,100.0L473.2,100.4L474.0,100.4L474.7,100.0L475.4,99.6L476.1,100.5L476.9,100.6L477.8,100.2L478.5,100.7L479.1,101.2L479.9,101.3L480.8,101.3L481.5,101.5L482.3,101.9L483.2,101.9L483.9,102.2L484.7,102.4L485.3,103.2L486.2,103.2L486.9,103.7L487.7,103.8L488.5,104.2L489.3,104.2L490.1,104.4L490.6,105.5L491.6,105.2L492.4,105.2L493.1,105.9L493.8,106.3L494.7,106.0L495.4,106.6L496.2,106.5L497.0,106.8L497.9,106.5L498.7,106.7L499.3,107.6L500.1,107.7L501.0,107.5L501.7,107.6L502.5,107.4L503.2,107.9L504.0,107.7L504.7,108.2L505.5,108.1L506.2,108.2L507.0,108.0"/>
<text class="lb" x="490.5" y="51.4" font-size="9" fill="#151515" textLength="26.5" lengthAdjust="spacingAndGlyphs">control</text>
<text class="lb" x="491.5" y="85.2" font-size="9" fill="#151515" textLength="22.4" lengthAdjust="spacingAndGlyphs">Q43P</text>
<text class="lb" x="491.2" y="118.8" font-size="9" fill="#151515" textLength="22.6" lengthAdjust="spacingAndGlyphs">Q43P</text>

<!-- Panel B -->
<text class="b" transform="translate(124.5,347.8) rotate(-90)" font-size="9.5" fill="#111" textLength="91" lengthAdjust="spacingAndGlyphs">ATP secretion (<tspan font-weight="normal">μ</tspan>M)</text>
<g class="b" font-size="9.2" fill="#111" text-anchor="end">
<text x="138.3" y="253.8">6</text>
<text x="138.3" y="273.2">5</text>
<text x="138.3" y="292.6">4</text>
<text x="138.3" y="312">3</text>
<text x="138.3" y="331.4">2</text>
<text x="138.3" y="350.8">1</text>
<text x="138.3" y="370.2">0</text>
</g>
<!-- bars -->
<rect x="204.2" y="315.6" width="34.5" height="52.4" fill="#b8b8b8"/><path d="M204.6,321.5V315.7H238.6V368" fill="none" stroke="#4a4a4a" stroke-width="1"/>
<rect x="323.8" y="276.7" width="34.1" height="91.5" fill="#b8b8b8"/><path d="M323.8,276.9H357.8V368" fill="none" stroke="#4a4a4a" stroke-width="1"/>
<rect x="170" y="321" width="34.2" height="47" fill="#262626"/>
<rect x="289" y="275.2" width="34.8" height="93" fill="#262626"/>
<!-- error bars -->
<path class="eb" d="M187.3,306.5V335.4M185,306.5H189.8M186.3,335.4H188.5"/>
<path class="eb" d="M221.6,300.8V330.3M219,300.8H224.2M219.8,330.3H223.6"/>
<path class="eb" d="M306.5,267.6V283.5M304.2,267.6H309.2M305.2,283.5H308"/>
<path d="M338.3,276.7H343" stroke="#222" stroke-width="1.8" fill="none"/>
<!-- axes -->
<path d="M144.9,251.5V371.2" stroke="#111" stroke-width="1.7" fill="none"/>
<path d="M142,251.5H145.2M142,270.9H145.2M142,290.3H145.2M142,309.7H145.2M142,329.1H145.2M142,348.5H145.2M142,368H145.2" stroke="#111" stroke-width="1.2" fill="none"/>
<path d="M144.4,368.2H384.2" stroke="#111" stroke-width="1.3" fill="none"/>
<path d="M264,368V371.2M383.7,368V371.4" stroke="#111" stroke-width="1.2" fill="none"/>
<!-- brackets -->
<path class="br" d="M172.5,265.5V257.3H294.6V265.5"/>
<path class="br" d="M215.4,238.6V230.3H337.5V238.6"/>
<text class="b" x="207" y="254.4" font-size="11.8" fill="#111" textLength="43" lengthAdjust="spacingAndGlyphs"><tspan font-style="italic">P</tspan> &lt; .001</text>
<text class="b" x="254.8" y="227.3" font-size="11.8" fill="#111" textLength="42.3" lengthAdjust="spacingAndGlyphs"><tspan font-style="italic">P</tspan>= .015</text>
<text class="b" x="173.7" y="383" font-size="9.4" fill="#111" textLength="61.5" lengthAdjust="spacingAndGlyphs">carriers-Q43P</text>
<text class="b" x="305.6" y="383.3" font-size="9.4" fill="#111" textLength="37" lengthAdjust="spacingAndGlyphs">controls</text>
</svg>
</body></html>
